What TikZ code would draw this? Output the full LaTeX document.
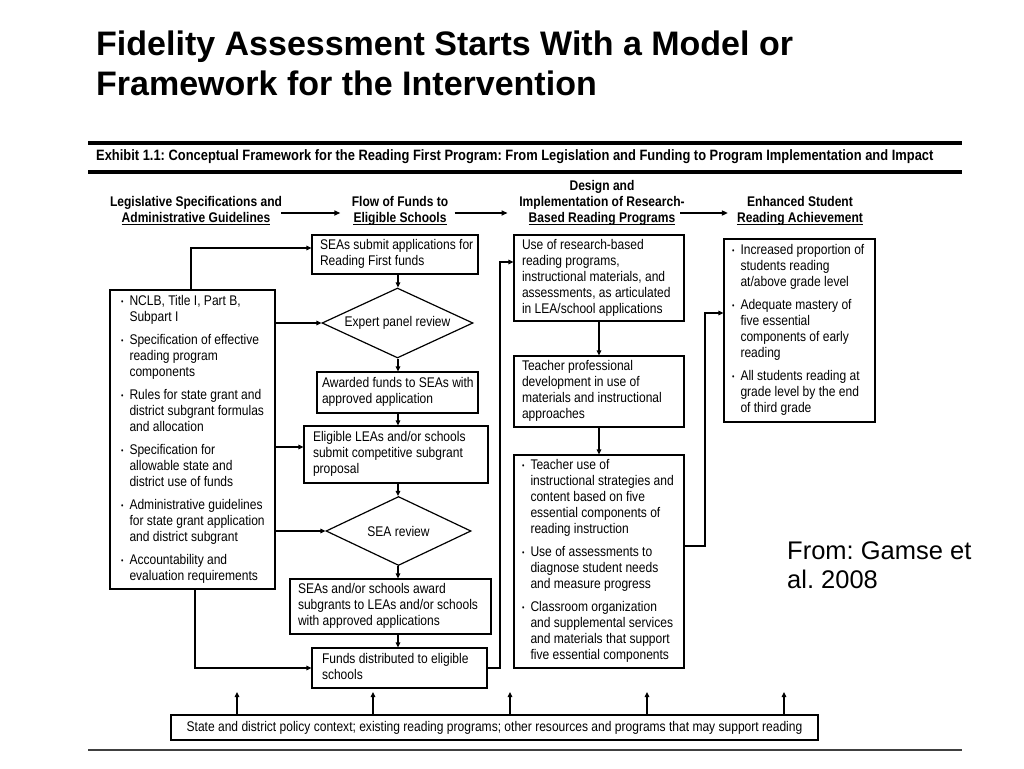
\documentclass[tikz,border=0pt]{standalone}
\usepackage{fontspec}
\setmainfont{Liberation Sans}
\newfontfamily\dgfont[FakeStretch=0.86]{Liberation Sans}
\usetikzlibrary{arrows.meta,shapes.geometric}
\newcommand\dg{\dgfont\fontsize{14}{16}\selectfont}
\newcommand\bl{\makebox[8.5pt][l]{\raisebox{1pt}{\fontsize{8}{8}\selectfont\textbullet}}}
\newcommand\ii{\hspace*{8.5pt}}
% left-aligned text block inside a box of width #2 with left padding #1
\newcommand\tb[3][8]{\makebox[\dimexpr #2pt - #1pt - #1pt\relax][l]{\begin{tabular}{@{}l@{}}#3\end{tabular}}}
\frenchspacing
\begin{document}
\begin{tikzpicture}[x=1pt,y=-1pt,
  box/.style={draw, line width=1.2pt, align=left, inner sep=0pt, font=\dg},
  dia/.style={draw, diamond, aspect=2.1, line width=1.2pt, inner sep=0pt, font=\dg},
  arr/.style={line width=1.2pt, -{Triangle[length=5pt,width=4.5pt]}},
  harr/.style={line width=1.5pt, -{Triangle[length=6pt,width=5pt]}},
  hd/.style={font=\dgfont\bfseries\fontsize{14}{15.5}\selectfont, inner sep=0pt, anchor=base},
  uline/.style={line width=1.1pt},
  rule/.style={line width=4pt},
]
\useasboundingbox (0,0) rectangle (1024,768);

% title
\node[anchor=north west, align=left, font=\bfseries\fontsize{34}{40}\selectfont, inner sep=0pt] (title) at (96,31)
  {Fidelity Assessment Starts With a Model or\\Framework for the Intervention};

% exhibit rules
\coordinate (r1a) at (88,143); \coordinate (r1b) at (962,143);
\coordinate (r2a) at (88,172); \coordinate (r2b) at (962,172);
\coordinate (r3a) at (88,750); \coordinate (r3b) at (962,750);
\draw[rule] (r1a) -- (r1b);
\draw[rule] (r2a) -- (r2b);
\draw[line width=2pt, black!75] (r3a) -- (r3b);
\node[anchor=west, inner sep=0pt, font=\dgfont\bfseries\fontsize{15}{16}\selectfont] (exh) at (96,157)
  {Exhibit 1.1: Conceptual Framework for the Reading First Program: From Legislation and Funding to Program Implementation and Impact};

% headers: one node per line; the last line of each is underlined
\node[hd] (H1a) at (196,206) {Legislative Specifications and};
\node[hd] (H1) at (196,222) {Administrative Guidelines};
\node[hd] (H2a) at (400,206) {Flow of Funds to};
\node[hd] (H2) at (400,222) {Eligible Schools};
\node[hd] (H3b) at (602,190) {Design and};
\node[hd] (H3a) at (602,206) {Implementation of Research-};
\node[hd] (H3) at (602,222) {Based Reading Programs};
\node[hd] (H4a) at (800,206) {Enhanced Student};
\node[hd] (H4) at (800,222) {Reading Achievement};
\foreach \h in {H1,H2,H3,H4}{
  \draw[uline] ([yshift=-2.5pt]\h.base west) -- ([yshift=-2.5pt]\h.base east);
}
\coordinate (a1s) at ([xshift=11pt]H1.east);  \coordinate (a1e) at ([xshift=-13pt]H2.west);
\coordinate (a2s) at ([xshift=8pt]H2.east);   \coordinate (a2e) at ([xshift=-21pt]H3.west);
\coordinate (a3s) at ([xshift=5pt]H3.east);   \coordinate (a3e) at ([xshift=-9pt]H4.west);
\draw[harr] (a1s |- 0,213) -- (a1e |- 0,213);
\draw[harr] (a2s |- 0,213) -- (a2e |- 0,213);
\draw[harr] (a3s |- 0,213) -- (a3e |- 0,213);

% left column
\node[box, minimum width=165, minimum height=299] (L) at (192.5,439.5)
  {\tb[11]{165}{\bl NCLB, Title I, Part B,\\\ii Subpart I\\[7pt]
   \bl Specification of effective\\\ii reading program\\\ii components\\[7pt]
   \bl Rules for state grant and\\\ii district subgrant formulas\\\ii and allocation\\[7pt]
   \bl Specification for\\\ii allowable state and\\\ii district use of funds\\[7pt]
   \bl Administrative guidelines\\\ii for state grant application\\\ii and district subgrant\\[7pt]
   \bl Accountability and\\\ii evaluation requirements}};

% funds flow column
\node[box, minimum width=166, minimum height=39] (S1) at (395,254.5) {\tb[8]{166}{SEAs submit applications for\\Reading First funds}};
\node[dia, minimum width=151, minimum height=70] (E) at (397.5,323) {Expert panel review};
\node[box, minimum width=161, minimum height=41] (A) at (397.5,392.5) {\tb[5]{161}{Awarded funds to SEAs with\\approved application}};
\node[box, minimum width=184, minimum height=57] (EL) at (396,454.5) {\tb[9]{184}{Eligible LEAs and/or schools\\submit competitive subgrant\\proposal}};
\node[dia, minimum width=145, minimum height=69] (R) at (398.5,531) {SEA review};
\node[box, minimum width=201, minimum height=55] (SA) at (390.5,606.5) {\tb[8]{201}{SEAs and/or schools award\\subgrants to LEAs and/or schools\\with approved applications}};
\node[box, minimum width=175, minimum height=40] (F) at (399.5,668) {\tb[10]{175}{Funds distributed to eligible\\schools}};

% implementation column
\node[box, minimum width=170, minimum height=86] (M1) at (599,278)
  {\tb[8]{170}{Use of research-based\\reading programs,\\instructional materials, and\\assessments, as articulated\\in LEA/school applications}};
\node[box, minimum width=170, minimum height=71] (M2) at (599,391.5)
  {\tb[8]{170}{Teacher professional\\development in use of\\materials and instructional\\approaches}};
\node[box, minimum width=170, minimum height=213] (M3) at (599,561.5)
  {\tb[8]{170}{\bl Teacher use of\\\ii instructional strategies and\\\ii content based on five\\\ii essential components of\\\ii reading instruction\\[7pt]
   \bl Use of assessments to\\\ii diagnose student needs\\\ii and measure progress\\[7pt]
   \bl Classroom organization\\\ii and supplemental services\\\ii and materials that support\\\ii five essential components}};

% outcomes
\node[box, minimum width=151, minimum height=183] (RB) at (799.5,330.5)
  {\tb[8]{151}{\bl Increased proportion of\\\ii students reading\\\ii at/above grade level\\[7pt]
   \bl Adequate mastery of\\\ii five essential\\\ii components of early\\\ii reading\\[7pt]
   \bl All students reading at\\\ii grade level by the end\\\ii of third grade}};

% context
\node[box, minimum width=647, minimum height=25, align=center] (B) at (494.5,727.5)
  {State and district policy context; existing reading programs; other resources and programs that may support reading};

% source
\node[anchor=north west, align=left, font=\fontsize{25.5}{29}\selectfont, inner sep=0pt] (src) at (787,541)
  {From: Gamse et\\al. 2008};

% connectors
\coordinate (cx) at (398,0);
\draw[arr] (cx |- S1.south) -- (cx |- E.north);
\draw[arr] (cx |- E.south) -- (cx |- A.north);
\draw[arr] (cx |- A.south) -- (cx |- EL.north);
\draw[arr] (cx |- EL.south) -- (cx |- R.north);
\draw[arr] (cx |- R.south) -- (cx |- SA.north);
\draw[arr] (cx |- SA.south) -- (cx |- F.north);

\coordinate (lx) at (191,0);
\coordinate (lb) at (195,0);
\draw[arr] (lx |- L.north) |- (S1.west |- 0,248);
\draw[arr] (L.east |- E.west) -- (E.west);
\draw[arr] (L.east |- 0,447) -- (EL.west |- 0,447);
\draw[arr] (L.east |- R.west) -- (R.west);
\draw[arr] (lb |- L.south) |- (F.west);

\draw[arr] (F.east) -| (500,262) -- (M1.west |- 0,262);
\draw[arr] (M1.south) -- (M2.north);
\draw[arr] (M2.south) -- (M3.north);
\draw[arr] (M3.east |- 0,546) -| (705,313) -- (RB.west |- 0,313);

\foreach \x [count=\i] in {237,373,510,647,784} {
  \coordinate (up\i) at (\x,692);
  \draw[arr] (up\i |- B.north) -- (up\i);
}
\end{tikzpicture}
\end{document}
